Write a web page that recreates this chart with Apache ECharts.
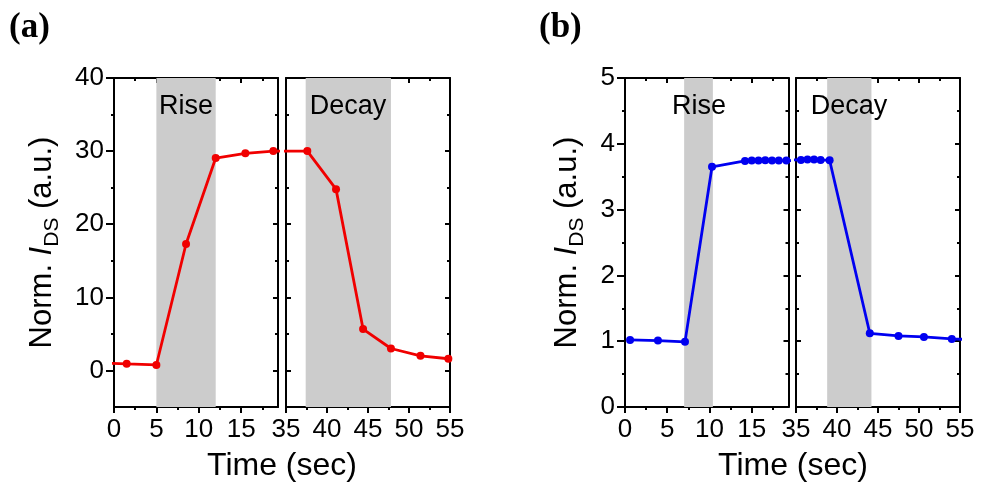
<!DOCTYPE html>
<html>
<head>
<meta charset="utf-8">
<script src="https://cdn.jsdelivr.net/npm/echarts@6/dist/echarts.min.js"></script>
<style>
  html, body { margin: 0; padding: 0; background: #fff; }
  #chart { width: 981px; height: 488px; }
</style>
</head>
<body>
<div id="chart"></div>
<script>
// Photocurrent response: normalised I_DS vs time, broken time axis (0–19 s | 35–55 s)

// Panel (a) – red trace
const timeA = [-1.9, 1.5, 5.0, 8.5, 12.0, 15.5, 18.8, 37.6, 41.1, 44.4, 47.8, 51.4, 54.8];
const valA  = [1.05, 0.9, 0.75, 17.3, 29.05, 29.7, 30.0, 30.0, 24.8, 5.66, 3.0, 2.0, 1.6];
const riseA  = [5.0, 12.0];
const decayA = [37.4, 47.8];

// Panel (b) – blue trace
const timeB = [0.6, 3.9, 7.1, 10.3, 14.2, 15.0, 15.8, 16.6, 17.4, 18.2, 19.1,
               35.6, 36.4, 37.2, 38.0, 39.1, 44.0, 47.5, 50.6, 54.0, 57.3];
const valB  = [1.02, 1.01, 0.99, 3.65, 3.74, 3.745, 3.745, 3.75, 3.745, 3.745, 3.745,
               3.755, 3.76, 3.76, 3.755, 3.75, 1.12, 1.08, 1.065, 1.035, 1.02];
const riseB  = [7.0, 10.4];
const decayB = [38.8, 44.2];

// Axis ranges and ticks
const xLeftRange  = [0, 19.35];
const xRightRange = [35, 55];
const xLeftMajor  = [0, 5, 10, 15];
const xLeftMinor  = [2.5, 7.5, 12.5, 17.5];
const xRightMajor = [35, 40, 45, 50, 55];
const xRightMinor = [37.5, 42.5, 47.5, 52.5];

const yRangeA = [-5, 40];
const yMajorA = [0, 10, 20, 30, 40];
const yMinorA = [5, 15, 25, 35];

const yRangeB = [0, 5];
const yMajorB = [0, 1, 2, 3, 4, 5];
const yMinorB = [0.5, 1.5, 2.5, 3.5, 4.5];

const FONT = 'Liberation Sans, Arial, sans-serif';
const INK = '#000';

const chart = echarts.init(document.getElementById('chart'), null, { renderer: 'canvas' });

const grids = [
  { left: 114, top: 78, width: 164, height: 329 },
  { left: 286, top: 78, width: 164, height: 329 },
  { left: 625, top: 78, width: 163.5, height: 329 },
  { left: 796, top: 78, width: 164, height: 329 }
];

function axis(gridIndex, position, range, ticks, len, inside, labels, showLine, extra) {
  return Object.assign({
    type: 'value', gridIndex, position, min: range[0], max: range[1],
    axisLine: { show: showLine, onZero: false, lineStyle: { color: INK, width: 2 } },
    axisTick: { show: true, inside, length: len, customValues: ticks, lineStyle: { color: INK, width: 2 } },
    axisLabel: labels
      ? { show: true, customValues: labels, color: INK, fontFamily: FONT, fontSize: 26, margin: 10 }
      : { show: false },
    splitLine: { show: false },
    minorTick: { show: false }
  }, extra || {});
}

const xAxes = [];
const yAxes = [];

function frame(g, xr, xMaj, xMin, yr, yMaj, yMin, outerLeft, yName, nameGap) {
  // bottom: outward ticks with labels; top: inward mirror ticks
  xAxes.push(axis(g, 'bottom', xr, xMaj, 6, false, xMaj, true));
  xAxes.push(axis(g, 'bottom', xr, xMin, 3, false, null, false));
  xAxes.push(axis(g, 'top', xr, xMaj, 5, true, null, true));
  xAxes.push(axis(g, 'top', xr, xMin, 3, true, null, false));
  // left: outward with labels on the outer panel, inward on the inner one
  const nameOpts = yName ? {
    name: '{n|Norm. }{i|I}{s|DS}{n| (a.u.)}',
    nameLocation: 'middle', nameRotate: 90, nameGap: nameGap,
    nameTextStyle: {
      color: INK, fontFamily: FONT, fontSize: 31,
      rich: {
        n: { fontFamily: FONT, fontSize: 31, color: INK },
        i: { fontFamily: FONT, fontSize: 31, fontStyle: 'italic', color: INK },
        s: { fontFamily: FONT, fontSize: 21, color: INK, verticalAlign: 'bottom', padding: [20, 0, 0, 0] }
      }
    }
  } : {};
  yAxes.push(axis(g, 'left', yr, yMaj, outerLeft ? 8 : 5, !outerLeft, outerLeft ? yMaj : null, true, nameOpts));
  yAxes.push(axis(g, 'left', yr, yMin, 3, !outerLeft, null, false));
  yAxes.push(axis(g, 'right', yr, yMaj, 5, true, null, true));
  yAxes.push(axis(g, 'right', yr, yMin, 3, true, null, false));
}

frame(0, xLeftRange,  xLeftMajor,  xLeftMinor,  yRangeA, yMajorA, yMinorA, true,  true, 51);
frame(1, xRightRange, xRightMajor, xRightMinor, yRangeA, yMajorA, yMinorA, false, false);
frame(2, xLeftRange,  xLeftMajor,  xLeftMinor,  yRangeB, yMajorB, yMinorB, true,  true, 37);
frame(3, xRightRange, xRightMajor, xRightMinor, yRangeB, yMajorB, yMinorB, false, false);

function pairs(t, v) { return t.map((x, i) => [x, v[i]]); }

function trace(g, t, v, color, shade) {
  return {
    type: 'line', xAxisIndex: g * 4, yAxisIndex: g * 4,
    data: pairs(t, v), clip: true,
    symbol: 'circle', symbolSize: 8, showSymbol: true,
    lineStyle: { color, width: 2.8 },
    itemStyle: { color },
    emphasis: { disabled: true },
    markArea: {
      silent: true,
      itemStyle: { color: '#cccccc' },
      data: [[{ xAxis: shade[0] }, { xAxis: shade[1] }]]
    }
  };
}

const RED = '#f00000';
const BLUE = '#0000f0';

const textStyle = (txt, size, extra) => Object.assign({
  text: txt, fontFamily: FONT, fontSize: size, fill: INK, align: 'center', verticalAlign: 'middle'
}, extra || {});

chart.setOption({
  animation: false,
  backgroundColor: '#fff',
  grid: grids.map(r => Object.assign({ containLabel: false }, r)),
  xAxis: xAxes,
  yAxis: yAxes,
  series: [
    trace(0, timeA, valA, RED, riseA),
    trace(1, timeA, valA, RED, decayA),
    trace(2, timeB, valB, BLUE, riseB),
    trace(3, timeB, valB, BLUE, decayB)
  ],
  graphic: [
    { type: 'text', x: 9, y: 28, style: textStyle('(a)', 35, { fontFamily: 'Liberation Serif, Times New Roman, serif', fontWeight: 'bold', align: 'left' }) },
    { type: 'text', x: 539, y: 28, style: textStyle('(b)', 35, { fontFamily: 'Liberation Serif, Times New Roman, serif', fontWeight: 'bold', align: 'left' }) },
    { type: 'text', x: 282, y: 466, style: textStyle('Time (sec)', 32) },
    { type: 'text', x: 793, y: 466, style: textStyle('Time (sec)', 32) },
    { type: 'text', x: 186, y: 107, style: textStyle('Rise', 27), z: 10 },
    { type: 'text', x: 348, y: 107, style: textStyle('Decay', 27), z: 10 },
    { type: 'text', x: 699, y: 107, style: textStyle('Rise', 27), z: 10 },
    { type: 'text', x: 849, y: 107, style: textStyle('Decay', 27), z: 10 }
  ]
});
</script>
</body>
</html>
